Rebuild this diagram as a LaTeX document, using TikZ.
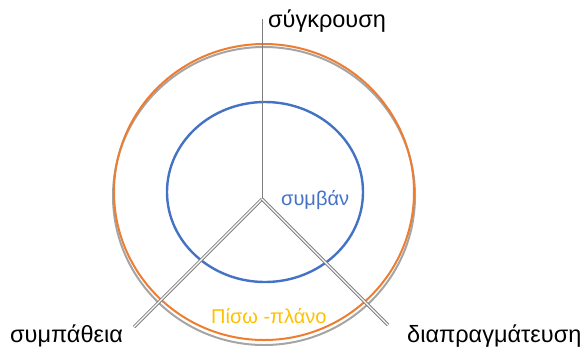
\documentclass[tikz,border=0pt]{standalone}
\usepackage{fontspec}
\setmainfont{Liberation Sans}
\definecolor{orng}{HTML}{ED7D31}
\definecolor{blu}{HTML}{4472C4}
\definecolor{gry}{HTML}{A5A5A5}
\definecolor{linegray}{HTML}{7F7F7F}
\definecolor{gold}{HTML}{FFC000}
\begin{document}
\begin{tikzpicture}[x=1pt,y=-1pt,
  ring/.style={line width=2pt},
  spoke/.style={draw=linegray,line width=1pt},
  dspoke/.style={draw=linegray,double=white,double distance=1.2pt,line width=1pt},
  lbl/.style={inner sep=0pt,font=\fontsize{23.5}{26}\selectfont,text=black},
  inlbl/.style={inner sep=0pt,font=\fontsize{20}{23}\selectfont}]
\useasboundingbox (0,0) rectangle (585,349);
% rings
\draw[ring,draw=gry] (264,196) ellipse [x radius=151,y radius=149];
\draw[ring,draw=orng] (264,192) ellipse [x radius=150,y radius=148];
\draw[ring,draw=blu,line width=2.4pt] (265,192) ellipse [x radius=98,y radius=90];
% spokes
\coordinate (c) at (262,199);
\coordinate (top) at (262,19);
\coordinate (bl) at (134,327);
\coordinate (br) at (388,325);
\draw[spoke] (c) -- (top);
\draw[dspoke] (c) -- (bl);
\draw[dspoke] (c) -- (br);
% labels
\node[lbl,anchor=base west] (t1) at (268,27) {σύγκρουση};
\node[lbl,anchor=base west] (t2) at (10,342) {συμπάθεια};
\node[lbl,anchor=base west] (t3) at (407,342) {διαπραγμάτευση};
\node[inlbl,anchor=base west,text=blu] (t4) at (281,205) {συμβάν};
\node[inlbl,anchor=base west,text=gold] (t5) at (211,323) {Πίσω -πλάνο};
\end{tikzpicture}
\end{document}
